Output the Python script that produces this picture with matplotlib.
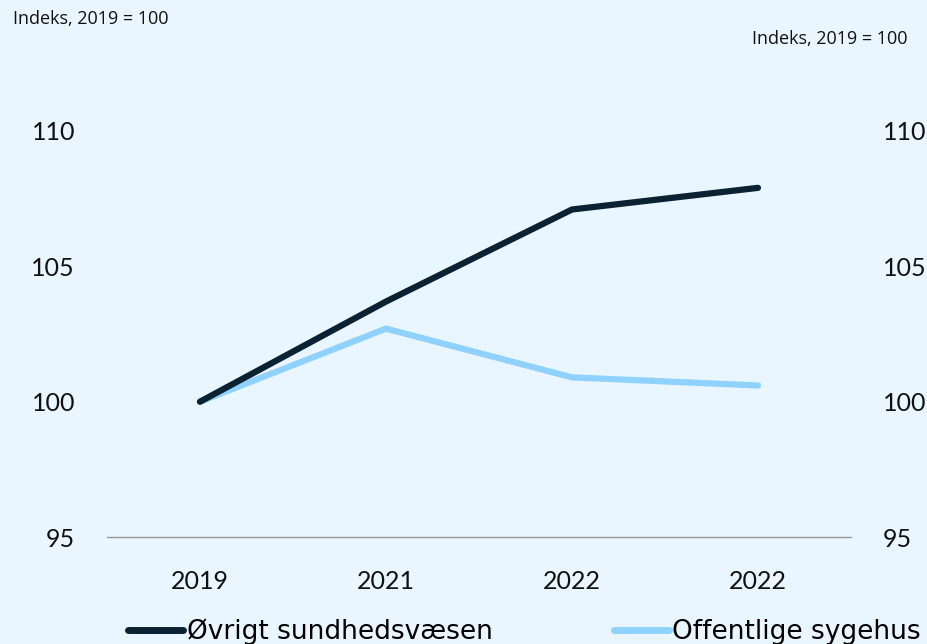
import numpy as np
from matplotlib import pyplot as plt
from matplotlib.lines import Line2D

# data
years = ['2019', '2021', '2022', '2022']
oevrigt = [100.0, 103.7, 107.1, 107.9]
offentlige = [100.0, 102.7, 100.9, 100.6]
yticks = [95, 100, 105, 110]

bg = '#EAF6FF'
dark = '#0B2233'
light = '#8FD1FF'

fig = plt.figure(figsize=(9.27, 6.44), dpi=100, facecolor=bg)
ax = fig.add_axes([0.1154, 0.166, 0.8026, 0.6306], facecolor=bg)

x = np.arange(len(years))
ax.plot(x, oevrigt, color=dark, lw=4.5, solid_capstyle='round', zorder=3)
ax.plot(x, offentlige, color=light, lw=4.5, solid_capstyle='round', zorder=2)

ax.set_xlim(-0.5, 3.5)
ax.set_ylim(95, 110)
ax.set_xticks(x)
ax.set_xticklabels(years)
ax.set_yticks(yticks)
ax.tick_params(axis='both', length=0, labelsize=18, colors='#111111')
ax.tick_params(axis='x', pad=24)
ax.tick_params(axis='y', pad=23, labelright=True)
for lbl in ax.get_xticklabels() + ax.get_yticklabels():
    lbl.set_family('Lato')

for side in ['top', 'left', 'right']:
    ax.spines[side].set_visible(False)
ax.spines['bottom'].set_color('#999999')
ax.spines['bottom'].set_linewidth(1.0)

fig.text(13 / 927, 1 - 19 / 644, 'Indeks, 2019 = 100', fontsize=13,
         family='Open Sans', va='center', ha='left', color='#111111')
fig.text(908 / 927, 1 - 39 / 644, 'Indeks, 2019 = 100', fontsize=13,
         family='Open Sans', va='center', ha='right', color='#111111')

handles = [Line2D([], [], color=dark, lw=5, solid_capstyle='round'),
           Line2D([], [], color=light, lw=5, solid_capstyle='round')]
fig.legend(handles, ['Øvrigt sundhedsvæsen', 'Offentlige sygehus'],
           loc='center left', bbox_to_anchor=(128 / 927, 1 - 632 / 644),
           ncol=2, frameon=False, handlelength=2.1, handletextpad=0.12,
           columnspacing=4.6, borderpad=0, borderaxespad=0,
           prop={'family': 'DejaVu Sans', 'size': 19})

fig.savefig('out.png', dpi=100, facecolor=bg)
